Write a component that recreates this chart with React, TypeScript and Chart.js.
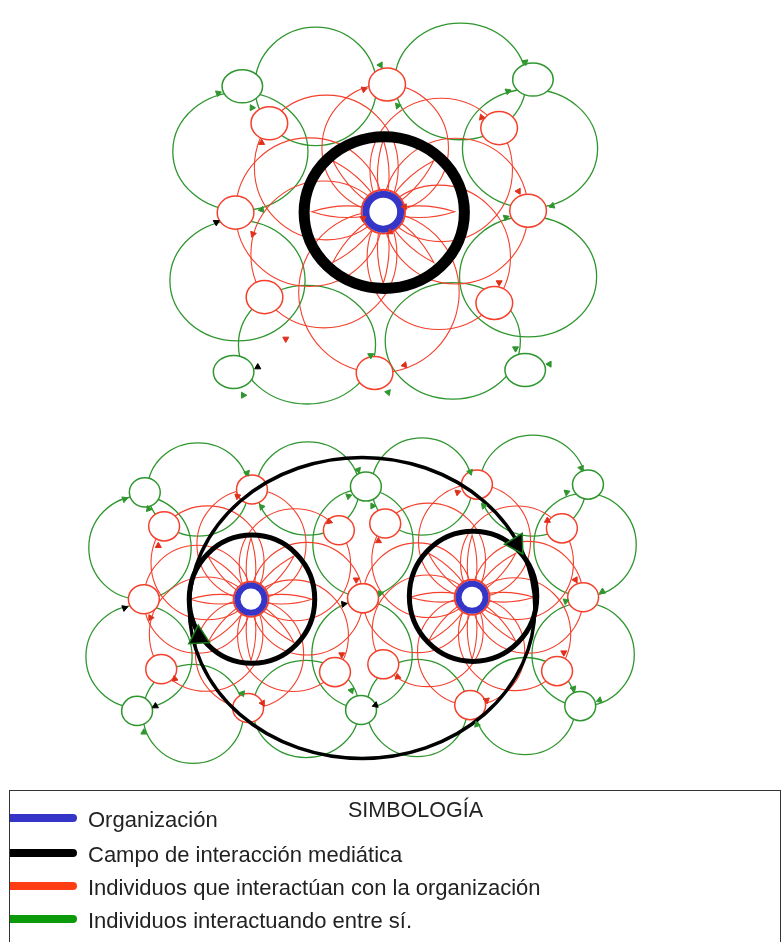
import React, { useEffect, useRef } from "react";
import { Chart, registerables } from "chart.js";

Chart.register(...registerables);

// ---------- DATA (diagram coordinates, y grows downward) ----------
const ORG_CENTERS = [
  { x: 383, y: 204 },
  { x: 246, y: 603 },
  { x: 475, y: 601 },
];

const RED_NODES_TOP = [
  { x: 387, y: 73 }, { x: 503, y: 118 }, { x: 533, y: 203 }, { x: 498, y: 298 },
  { x: 374, y: 370 }, { x: 260, y: 292 }, { x: 230, y: 205 }, { x: 265, y: 113 },
];
const GREEN_NODES_TOP = [
  { x: 237, y: 75 }, { x: 538, y: 68 }, { x: 530, y: 367 }, { x: 228, y: 369 },
];

const RED_NODES_LEFT = [
  { x: 247, y: 490 }, { x: 337, y: 532 }, { x: 362, y: 602 }, { x: 333, y: 678 },
  { x: 243, y: 715 }, { x: 153, y: 675 }, { x: 135, y: 603 }, { x: 156, y: 528 },
];
const RED_NODES_RIGHT = [
  { x: 480, y: 485 }, { x: 568, y: 530 }, { x: 590, y: 601 }, { x: 563, y: 677 },
  { x: 473, y: 712 }, { x: 383, y: 670 }, { x: 362, y: 602 }, { x: 385, y: 525 },
];
const GREEN_NODES_BOTTOM = [
  { x: 136, y: 493 }, { x: 365, y: 487 }, { x: 595, y: 485 },
  { x: 128, y: 718 }, { x: 360, y: 717 }, { x: 587, y: 713 },
];

const GREEN_LOOPS_TOP = [
  { x: 313, y: 75, rx: 63, ry: 61 }, { x: 463, y: 70, rx: 68, ry: 60 },
  { x: 535, y: 139, rx: 70, ry: 61 }, { x: 533, y: 271, rx: 71, ry: 62 },
  { x: 455, y: 337, rx: 70, ry: 60 }, { x: 304, y: 341, rx: 71, ry: 61 },
  { x: 232, y: 275, rx: 70, ry: 62 }, { x: 235, y: 142, rx: 70, ry: 61 },
];
const GREEN_LOOPS_BOTTOM = [
  { x: 131, y: 550, rx: 53, ry: 53 }, { x: 130, y: 662, rx: 55, ry: 53 },
  { x: 191, y: 490, rx: 52, ry: 48 }, { x: 305, y: 489, rx: 53, ry: 48 },
  { x: 423, y: 487, rx: 52, ry: 50 }, { x: 538, y: 486, rx: 55, ry: 52 },
  { x: 592, y: 547, rx: 53, ry: 53 }, { x: 590, y: 660, rx: 53, ry: 53 },
  { x: 530, y: 713, rx: 52, ry: 50 }, { x: 418, y: 715, rx: 52, ry: 50 },
  { x: 303, y: 716, rx: 55, ry: 50 }, { x: 186, y: 721, rx: 52, ry: 51 },
  { x: 362, y: 545, rx: 52, ry: 55 }, { x: 361, y: 660, rx: 52, ry: 55 },
];

const MEDIA_RINGS = [
  { x: 384, y: 205, rx: 83, ry: 78 },
  { x: 247, y: 603, rx: 65, ry: 66 },
  { x: 476, y: 600, rx: 66, ry: 67 },
];
const MEDIA_FIELD = [{ x: 361, y: 612, rx: 179, ry: 155 }];

const PETAL_ANGLES = [0, 45, 90, 135, 180, 225, 270, 315];
const PETAL_LENGTHS = [74, 63, 64];

// arrowheads: [x, y, direction in degrees, 0 = pointing up]
const GREEN_ARROWS = [
  [380, 53, 150], [212, 82, 70], [247, 97, -30], [530, 50, 170], [512, 80, 70],
  [398, 95, -40], [558, 198, -110], [257, 202, -100], [510, 210, 70], [520, 345, 180],
  [555, 361, -90], [370, 352, 180], [388, 390, -80], [238, 393, 90],
  [242, 473, 160], [115, 500, 70], [140, 510, -20], [357, 470, 160], [347, 497, 70],
  [257, 508, -40], [237, 700, 160], [135, 740, 0], [350, 697, 160], [473, 472, 160],
  [588, 468, 160], [573, 493, 70], [487, 507, -40], [610, 595, -120], [572, 605, 70],
  [580, 695, 160], [607, 707, -110], [480, 732, -20], [380, 597, 80], [372, 507, -30],
];
const RED_ARROWS = [
  [363, 78, 70], [257, 133, 0], [485, 107, 100], [523, 183, 150], [248, 227, -40],
  [503, 277, 180], [282, 335, 180], [405, 362, 20], [405, 199, -90], [362, 211, 60],
  [390, 225, 0],
  [232, 497, 70], [150, 548, 0], [142, 622, -30], [167, 685, 110], [258, 710, -90],
  [355, 583, 180], [340, 660, 180], [327, 523, 110], [460, 493, 70], [553, 522, 120],
  [378, 543, 0], [582, 583, 150], [570, 658, 180], [490, 707, -70], [398, 683, 110],
];
const BLACK_ARROWS = [
  [210, 215, 60], [253, 364, -120],
  [115, 612, 70], [147, 713, -120], [375, 712, -110], [342, 608, 80],
];
const FIELD_ARROWS = [
  [192, 642, -3], [521, 546, 148],
];

const LEGEND_TITLE = "SIMBOLOGÍA";
const LEGEND_ITEMS = [
  { label: "Organización", color: "#3535c8" },
  { label: "Campo de interacción mediática", color: "#000000" },
  { label: "Individuos que interactúan con la organización", color: "#ff3d12" },
  { label: "Individuos interactuando entre sí.", color: "#0a9a0a" },
];

// ---------- STYLE ----------
const GREEN = "#2f962f";
const RED = "#f4402c";
const BLUE = "#3535c8";

const toPts = (arr: number[][]) => arr.map((a) => ({ x: a[0], y: a[1] }));
const toRot = (arr: number[][]) => arr.map((a) => a[2]);

const diagramPlugin = {
  id: "diagram",
  beforeDatasetsDraw(chart: any) {
    const { ctx } = chart;
    const xs = chart.scales.x;
    const ys = chart.scales.y;
    const px = (v: number) => xs.getPixelForValue(v);
    const py = (v: number) => ys.getPixelForValue(v);
    const sx = (v: number) => Math.abs(xs.getPixelForValue(v) - xs.getPixelForValue(0));
    const sy = (v: number) => Math.abs(ys.getPixelForValue(v) - ys.getPixelForValue(0));

    const ellipse = (cx: number, cy: number, rx: number, ry: number, stroke: string | null, lw: number, fill?: string) => {
      ctx.beginPath();
      ctx.ellipse(px(cx), py(cy), sx(rx), sy(ry), 0, 0, Math.PI * 2);
      if (fill) {
        ctx.fillStyle = fill;
        ctx.fill();
      }
      if (stroke) {
        ctx.strokeStyle = stroke;
        ctx.lineWidth = lw;
        ctx.stroke();
      }
    };

    ctx.save();
    // green loops
    [...GREEN_LOOPS_TOP, ...GREEN_LOOPS_BOTTOM].forEach((c) => ellipse(c.x, c.y, c.rx, c.ry, GREEN, 1.3));

    // red circles linking each organisation with its individuals
    const links: [any, any[]][] = [
      [ORG_CENTERS[0], RED_NODES_TOP],
      [ORG_CENTERS[1], RED_NODES_LEFT],
      [ORG_CENTERS[2], RED_NODES_RIGHT],
    ];
    links.forEach(([o, nodes]) => {
      nodes.forEach((n) => {
        const mx = (o.x + n.x) / 2;
        const my = (o.y + n.y) / 2;
        const r = Math.hypot(n.x - o.x, n.y - o.y) / 2;
        ellipse(mx, my, r, r, RED, 1.1);
      });
    });

    // petals around each organisation
    ORG_CENTERS.forEach((o, i) => {
      const L = PETAL_LENGTHS[i];
      const w = i === 0 ? 6 : 5;
      PETAL_ANGLES.forEach((a) => {
        const rad = (a * Math.PI) / 180;
        const dx = Math.cos(rad), dy = Math.sin(rad);
        const tx = o.x + dx * L, ty = o.y + dy * L;
        const mx = o.x + dx * L / 2, my = o.y + dy * L / 2;
        const nx = -dy, ny = dx;
        ctx.beginPath();
        ctx.moveTo(px(o.x), py(o.y));
        ctx.quadraticCurveTo(px(mx + nx * 2 * w), py(my + ny * 2 * w), px(tx), py(ty));
        ctx.quadraticCurveTo(px(mx - nx * 2 * w), py(my - ny * 2 * w), px(o.x), py(o.y));
        ctx.strokeStyle = RED;
        ctx.lineWidth = 1.1;
        ctx.stroke();
      });
    });

    // individual nodes
    GREEN_NODES_TOP.forEach((n) => ellipse(n.x, n.y, 21, 17, GREEN, 1.5, "#ffffff"));
    RED_NODES_TOP.forEach((n) => ellipse(n.x, n.y, 19, 17, RED, 1.5, "#ffffff"));
    GREEN_NODES_BOTTOM.forEach((n) => ellipse(n.x, n.y, 16, 15, GREEN, 1.5, "#ffffff"));
    [...RED_NODES_LEFT, ...RED_NODES_RIGHT].forEach((n) => ellipse(n.x, n.y, 16, 15, RED, 1.5, "#ffffff"));

    // media interaction fields
    ellipse(MEDIA_RINGS[0].x, MEDIA_RINGS[0].y, MEDIA_RINGS[0].rx, MEDIA_RINGS[0].ry, "#000000", 11);
    ellipse(MEDIA_RINGS[1].x, MEDIA_RINGS[1].y, MEDIA_RINGS[1].rx, MEDIA_RINGS[1].ry, "#000000", 5);
    ellipse(MEDIA_RINGS[2].x, MEDIA_RINGS[2].y, MEDIA_RINGS[2].rx, MEDIA_RINGS[2].ry, "#000000", 5);
    MEDIA_FIELD.forEach((f) => ellipse(f.x, f.y, f.rx, f.ry, "#000000", 3.5));

    // organisations
    ORG_CENTERS.forEach((o, i) => {
      const r = i === 0 ? 18 : 14;
      const lw = i === 0 ? 7 : 6;
      ellipse(o.x, o.y, r + lw / 2 + 1, r + lw / 2 + 1, RED, 2, "#ffffff");
      ellipse(o.x, o.y, r, r, BLUE, lw);
    });
    ctx.restore();
  },
};

function App() {
  const ref = useRef<HTMLCanvasElement | null>(null);

  useEffect(() => {
    if (!ref.current) return;
    const chart = new Chart(ref.current, {
      type: "scatter",
      data: {
        datasets: [
          {
            label: "green",
            data: toPts(GREEN_ARROWS),
            pointStyle: "triangle",
            pointRotation: toRot(GREEN_ARROWS),
            pointRadius: 3.5,
            backgroundColor: GREEN,
            borderColor: GREEN,
            borderWidth: 1,
          },
          {
            label: "red",
            data: toPts(RED_ARROWS),
            pointStyle: "triangle",
            pointRotation: toRot(RED_ARROWS),
            pointRadius: 3.5,
            backgroundColor: "#e0301c",
            borderColor: "#e0301c",
            borderWidth: 1,
          },
          {
            label: "black",
            data: toPts(BLACK_ARROWS),
            pointStyle: "triangle",
            pointRotation: toRot(BLACK_ARROWS),
            pointRadius: 3.5,
            backgroundColor: "#000",
            borderColor: "#000",
            borderWidth: 1,
          },
          {
            label: "field",
            data: toPts(FIELD_ARROWS),
            pointStyle: "triangle",
            pointRotation: toRot(FIELD_ARROWS),
            pointRadius: 12,
            backgroundColor: "#000",
            borderColor: "#1a7a1a",
            borderWidth: 1.5,
          },
        ],
      },
      options: {
        animation: false,
        responsive: false,
        maintainAspectRatio: false,
        layout: { padding: 0 },
        plugins: { legend: { display: false }, tooltip: { enabled: false } },
        events: [],
        scales: {
          x: { type: "linear", min: 0, max: 782, display: false },
          y: { type: "linear", min: 0, max: 942, reverse: true, display: false },
        },
      },
      plugins: [diagramPlugin],
    });
    return () => chart.destroy();
  }, []);

  const font = '"Liberation Sans", Arial, Helvetica, sans-serif';
  const rowY = [820, 855, 888, 921];

  return (
    <div style={{ position: "absolute", left: 0, top: 0, width: 782, height: 942, background: "#fff", overflow: "hidden" }}>
      <canvas ref={ref} width={782} height={942} style={{ position: "absolute", left: 0, top: 0, width: 782, height: 942 }} />
      <div
        style={{
          position: "absolute", left: 9, top: 790, width: 770, height: 200,
          borderTop: "1.5px solid #333", borderLeft: "1.5px solid #333", borderRight: "1.5px solid #333",
        }}
      />
      <div style={{ position: "absolute", left: 348, top: 797, fontFamily: font, fontSize: 21.5, lineHeight: "26px", color: "#222" }}>
        {LEGEND_TITLE}
      </div>
      {LEGEND_ITEMS.map((it, i) => (
        <React.Fragment key={it.label}>
          <div
            style={{
              position: "absolute", left: 10, top: rowY[i] - 6, width: 67, height: 8,
              background: it.color, borderRadius: "0 4px 4px 0",
            }}
          />
          <div
            style={{
              position: "absolute", left: 88, top: rowY[i] - 13, fontFamily: font, fontSize: 22,
              lineHeight: "26px", color: "#222", whiteSpace: "nowrap",
            }}
          >
            {it.label}
          </div>
        </React.Fragment>
      ))}
    </div>
  );
}

export default App;
